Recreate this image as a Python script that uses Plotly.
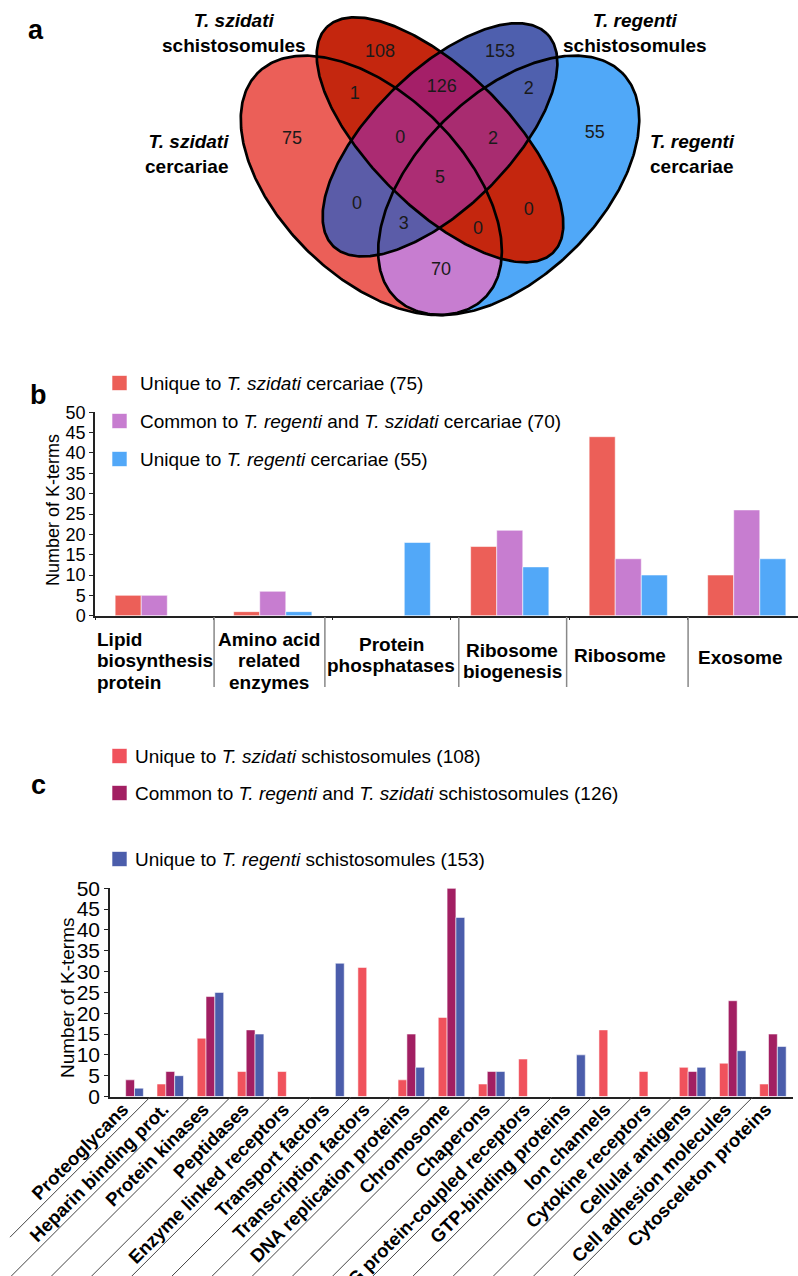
import numpy as np
import plotly.graph_objects as go

FONT = "Liberation Sans, Arial, Helvetica, sans-serif"
W, H = 798, 1276

# ---------------- panel a: four-set Venn diagram ----------------
# sets: A = T. szidati cercariae, B = T. regenti cercariae,
#       C = T. szidati schistosomules, D = T. regenti schistosomules
region_keys = ["A", "B", "C", "D", "AB", "AC", "AD", "BC", "BD", "CD",
               "ABC", "ABD", "ACD", "BCD", "ABCD"]
region_counts = [75, 55, 108, 153, 70, 1, 0, 0, 2, 126, 0, 3, 0, 2, 5]

# ---------------- panel b: cercariae K-term categories ----------------
b_categories = ["Lipid biosynthesis protein", "Amino acid related enzymes",
                "Protein phosphatases", "Ribosome biogenesis", "Ribosome", "Exosome"]
b_unique_szidati = [5, 1, 0, 17, 44, 10]
b_common = [5, 6, 0, 21, 14, 26]
b_unique_regenti = [0, 1, 18, 12, 10, 14]

# ---------------- panel c: schistosomule K-term categories ----------------
c_categories = ["Proteoglycans", "Heparin binding prot.", "Protein kinases", "Peptidases",
                "Enzyme linked receptors", "Transport factors", "Transcription factors",
                "DNA replication proteins", "Chromosome", "Chaperons",
                "G protein-coupled receptors", "GTP-binding proteins", "Ion channels",
                "Cytokine receptors", "Cellular antigens", "Cell adhesion molecules",
                "Cytosceleton proteins"]
c_unique_szidati = [0, 3, 14, 6, 6, 0, 31, 4, 19, 3, 9, 0, 16, 6, 7, 8, 3]
c_common = [4, 6, 24, 16, 0, 0, 0, 15, 50, 6, 0, 0, 0, 0, 6, 23, 15]
c_unique_regenti = [2, 5, 25, 15, 0, 32, 0, 7, 43, 6, 0, 10, 0, 0, 7, 11, 12]

tick_values = [0, 5, 10, 15, 20, 25, 30, 35, 40, 45, 50]

# ---------------- styling ----------------
B_COLORS = ["#EC5F58", "#C77DD0", "#52A8F8"]
C_COLORS = ["#F0525C", "#A21F62", "#4B5DAB"]

# quad Venn ellipses: centre x, centre y, semi-major, semi-minor, rotation (deg)
ELLIPSES = {
    "A": (0.35, 0.47, 0.35, 0.20, 135),
    "B": (0.65, 0.47, 0.35, 0.20, 45),
    "C": (0.50, 0.57, 0.35, 0.15, 135),
    "D": (0.50, 0.57, 0.33, 0.15, 45),
}
REGION_COLORS = {
    "A": "#EB5F58", "B": "#50A8F8", "C": "#C4260E", "D": "#4E5FAE",
    "AB": "#C77DD0", "AC": "#C4270F", "AD": "#5B5CA8", "BC": "#C4260E",
    "BD": "#4F60AE", "CD": "#A41F68", "ABC": "#C4260E", "ABD": "#5B5CA8",
    "ACD": "#AB2B72", "BCD": "#A82C70", "ABCD": "#AC2D74",
}
# label anchor per region (Venn units)
REGION_LABEL_POS = {
    "A": (0.177, 0.570), "B": (0.838, 0.585), "C": (0.369, 0.763), "D": (0.631, 0.763),
    "AB": (0.502, 0.282), "AC": (0.314, 0.669), "AD": (0.319, 0.429), "BC": (0.694, 0.414),
    "BD": (0.694, 0.680), "CD": (0.504, 0.684), "ABC": (0.583, 0.372), "ABD": (0.421, 0.383),
    "ACD": (0.413, 0.574), "BCD": (0.616, 0.570), "ABCD": (0.500, 0.486),
}

# pixel <-> Venn unit mapping of the diagram area
VX0, VSX = 440.0, 458.0      # x_px = VX0 + (x - 0.5) * VSX
VY0, VSY = 399.2, 455.0      # y_px = VY0 - y * VSY
VENN_BOTTOM_PX = 340.0


def px2paper(px, py):
    return px / W, 1 - py / H


def inside(name, x, y):
    cx, cy, a, b, rot = ELLIPSES[name]
    t = np.deg2rad(rot)
    dx, dy = x - cx, y - cy
    u = dx * np.cos(t) + dy * np.sin(t)
    v = -dx * np.sin(t) + dy * np.cos(t)
    return (u / a) ** 2 + (v / b) ** 2 <= 1


fig = go.Figure()

# --- Venn region fill (rasterised membership map) ---
px_x = np.arange(230, 652, 1.0)
px_y = np.arange(0, 330, 1.0)
gx = 0.5 + (px_x - VX0) / VSX
gy = (VY0 - px_y) / VSY
XX, YY = np.meshgrid(gx, gy)
code = np.zeros(XX.shape, dtype=int)
for bit, name in enumerate("ABCD"):
    code += inside(name, XX, YY).astype(int) << bit

key_of_code = {}
for key in region_keys:
    c = sum(1 << "ABCD".index(ch) for ch in key)
    key_of_code[c] = key
scale = []
for c in range(16):
    col = "#FFFFFF" if c == 0 else REGION_COLORS[key_of_code[c]]
    scale.append([c / 16, col])
    scale.append([(c + 1) / 16, col])
fig.add_trace(go.Heatmap(x=gx, y=gy, z=code.tolist(), zmin=-0.5, zmax=15.5,
                         colorscale=scale, showscale=False, hoverinfo="skip",
                         xaxis="x", yaxis="y"))

# --- Venn outlines ---
theta = np.linspace(0, 2 * np.pi, 361)
for name in "ABCD":
    cx, cy, a, b, rot = ELLIPSES[name]
    t = np.deg2rad(rot)
    ex = cx + a * np.cos(theta) * np.cos(t) - b * np.sin(theta) * np.sin(t)
    ey = cy + a * np.cos(theta) * np.sin(t) + b * np.sin(theta) * np.cos(t)
    fig.add_trace(go.Scatter(x=ex, y=ey, mode="lines", line=dict(color="black", width=2.7),
                             hoverinfo="skip", showlegend=False, xaxis="x", yaxis="y"))

# --- Venn region counts ---
fig.add_trace(go.Scatter(
    x=[REGION_LABEL_POS[k][0] for k in region_keys],
    y=[REGION_LABEL_POS[k][1] for k in region_keys],
    text=[str(v) for v in region_counts], mode="text",
    textfont=dict(family=FONT, size=18, color="#1a1a1a"),
    hoverinfo="skip", showlegend=False, xaxis="x", yaxis="y"))

# ---------------- panel b bars ----------------
b_x = list(range(len(b_categories)))
for vals, col in zip([b_unique_szidati, b_common, b_unique_regenti], B_COLORS):
    fig.add_trace(go.Bar(x=b_x, y=vals, marker=dict(color=col,
                         line=dict(color="rgba(255,255,255,0.55)", width=1)),
                         showlegend=False, xaxis="x2", yaxis="y2"))

# ---------------- panel c bars ----------------
c_x = list(range(len(c_categories)))
for vals, col in zip([c_unique_szidati, c_common, c_unique_regenti], C_COLORS):
    fig.add_trace(go.Bar(x=c_x, y=vals, marker=dict(color=col,
                         line=dict(color="rgba(255,255,255,0.55)", width=1)),
                         showlegend=False, xaxis="x3", yaxis="y3"))

# ---------------- axes ----------------
venn_y_top = VY0 / VSY
venn_y_bot = (VY0 - VENN_BOTTOM_PX) / VSY
b_x0_px, b_cat_px = 95.0, 118.5
b_y0_px, b_y50_px = 615.7, 412.3
c_x0_px, c_x1_px = 110.0, 793.0
c_y0_px, c_y50_px = 1096.5, 888.3
c_cat_px = (c_x1_px - c_x0_px) / len(c_categories)

axis_common = dict(showgrid=False, zeroline=False, automargin=False)
fig.update_layout(
    width=W, height=H, margin=dict(l=0, r=0, t=0, b=0),
    paper_bgcolor="white", plot_bgcolor="white",
    font=dict(family=FONT, color="black"),
    barmode="group", bargap=0.34, bargroupgap=0,
    showlegend=False,
    xaxis=dict(domain=[0, 1], range=[0.5 - VX0 / VSX, 0.5 + (W - VX0) / VSX],
               visible=False, **axis_common),
    yaxis=dict(domain=[1 - VENN_BOTTOM_PX / H, 1], range=[venn_y_bot, venn_y_top],
               visible=False, **axis_common),
    xaxis2=dict(domain=[b_x0_px / W, 1], range=[-0.5, -0.5 + (W - b_x0_px) / b_cat_px],
                showline=True, linecolor="#222", linewidth=1.5,
                tickmode="array", tickvals=[i - 0.5 for i in range(len(b_categories) + 1)],
                ticks="outside", ticklen=3, tickcolor="#222", showticklabels=False,
                anchor="y2", **axis_common),
    yaxis2=dict(domain=[1 - b_y0_px / H, 1 - b_y50_px / H], range=[0, 50],
                tickmode="array", tickvals=tick_values,
                showline=True, linecolor="#222", linewidth=1.5,
                ticks="outside", ticklen=4, tickcolor="#222",
                tickfont=dict(size=18, family=FONT), anchor="x2", **axis_common),
    xaxis3=dict(domain=[c_x0_px / W, c_x1_px / W], range=[-0.5, len(c_categories) - 0.5],
                showline=True, linecolor="#222", linewidth=1.5,
                tickmode="array", tickvals=c_x, ticktext=c_categories, tickangle=-45,
                ticks="", tickfont=dict(size=18.5, family=FONT, weight="bold"),
                ticklabelshift=-7, ticklabelstandoff=-7,
                anchor="y3", **axis_common),
    yaxis3=dict(domain=[1 - c_y0_px / H, 1 - c_y50_px / H], range=[0, 50],
                tickmode="array", tickvals=tick_values,
                showline=True, linecolor="#222", linewidth=1.5,
                ticks="outside", ticklen=4, tickcolor="#222",
                tickfont=dict(size=21, family=FONT), anchor="x3", **axis_common),
)

annotations = []
shapes = []


def add_text(px, py, text, size, xanchor="center", align="center", **kw):
    x, y = px2paper(px, py)
    annotations.append(dict(x=x, y=y, xref="paper", yref="paper", text=text, showarrow=False,
                            xanchor=xanchor, yanchor="middle", align=align,
                            font=dict(family=FONT, size=size, color="black"), **kw))


# panel letters
add_text(36, 30, "<b>a</b>", 27)
add_text(38, 395, "<b>b</b>", 27)
add_text(38, 785, "<b>c</b>", 27)

# Venn set names
add_text(234, 33, "<b><i>T. szidati</i></b><br><b>schistosomules</b>", 19)
add_text(635, 33, "<b><i>T. regenti</i></b><br><b>schistosomules</b>", 19)
add_text(231, 154, "<b><i>T. szidati</i></b><br><b>cercariae</b>", 19, xanchor="right", align="right")
add_text(648, 154, "<b><i>T. regenti</i></b><br><b>cercariae</b>", 19, xanchor="left", align="left")

# legends (counts taken from the Venn regions)
cnt = dict(zip(region_keys, region_counts))
b_legend = [
    f"Unique to <i>T. szidati</i> cercariae ({cnt['A']})",
    f"Common to <i>T. regenti</i> and <i>T. szidati</i> cercariae ({cnt['AB']})",
    f"Unique to <i>T. regenti</i> cercariae ({cnt['B']})",
]
c_legend = [
    f"Unique to <i>T. szidati</i> schistosomules ({cnt['C']})",
    f"Common to <i>T. regenti</i> and <i>T. szidati</i> schistosomules ({cnt['CD']})",
    f"Unique to <i>T. regenti</i> schistosomules ({cnt['D']})",
]
for texts, cols, rows, tx in [(b_legend, B_COLORS, [383, 421, 459], 138),
                              (c_legend, C_COLORS, [756, 793, 859], 133)]:
    for t, col, ry in zip(texts, cols, rows):
        x0, y0 = px2paper(112, ry - 7.5)
        x1, y1 = px2paper(127, ry + 7.5)
        shapes.append(dict(type="rect", xref="paper", yref="paper", x0=x0, x1=x1, y0=y0, y1=y1,
                           fillcolor=col, line=dict(color="rgba(255,255,255,0.6)", width=1)))
        add_text(tx, ry, t, 19, xanchor="left", align="left")

# y-axis titles
add_text(53, 510, "Number of K-terms", 18, textangle=-90)
add_text(67, 998, "Number of K-terms", 19, textangle=-90)

# panel b category labels (lines, anchor, x px, first line y px)
b_label_layout = [
    (["Lipid", "biosynthesis", "protein"], "left", 95, 639),
    (["Amino acid", "related", "enzymes"], "center", 269, 639),
    (["Protein", "phosphatases"], "center", 391, 644),
    (["Ribosome", "biogenesis"], "center", 512, 650),
    (["Ribosome"], "left", 572, 655),
    (["Exosome"], "center", 740, 657),
]
for lines, anchor, lx, ly in b_label_layout:
    for i, line in enumerate(lines):
        add_text(lx, ly + i * 21.5, f"<b>{line}</b>", 19, xanchor=anchor, align=anchor)

# panel b category separators (x units of panel b)
b_separators = [0.505, 1.44, 2.57, 3.48, 4.505]
for s in b_separators:
    shapes.append(dict(type="line", xref="x2", yref="paper", x0=s, x1=s,
                       y0=1 - 617 / H, y1=1 - 687 / H, line=dict(color="#888", width=1.5)))

# panel c diagonal separators from each category boundary
for k in range(1, len(c_categories)):
    bx = c_x0_px + k * c_cat_px
    by = c_y0_px + 0.5
    ex = 10.0
    ey = by + (bx - ex)
    x0, y0 = px2paper(bx, by)
    x1, y1 = px2paper(ex, ey)
    shapes.append(dict(type="line", xref="paper", yref="paper", x0=x0, y0=y0, x1=x1, y1=y1,
                       line=dict(color="#444", width=1)))

fig.update_layout(annotations=annotations, shapes=shapes)
fig.write_html("out.html")
